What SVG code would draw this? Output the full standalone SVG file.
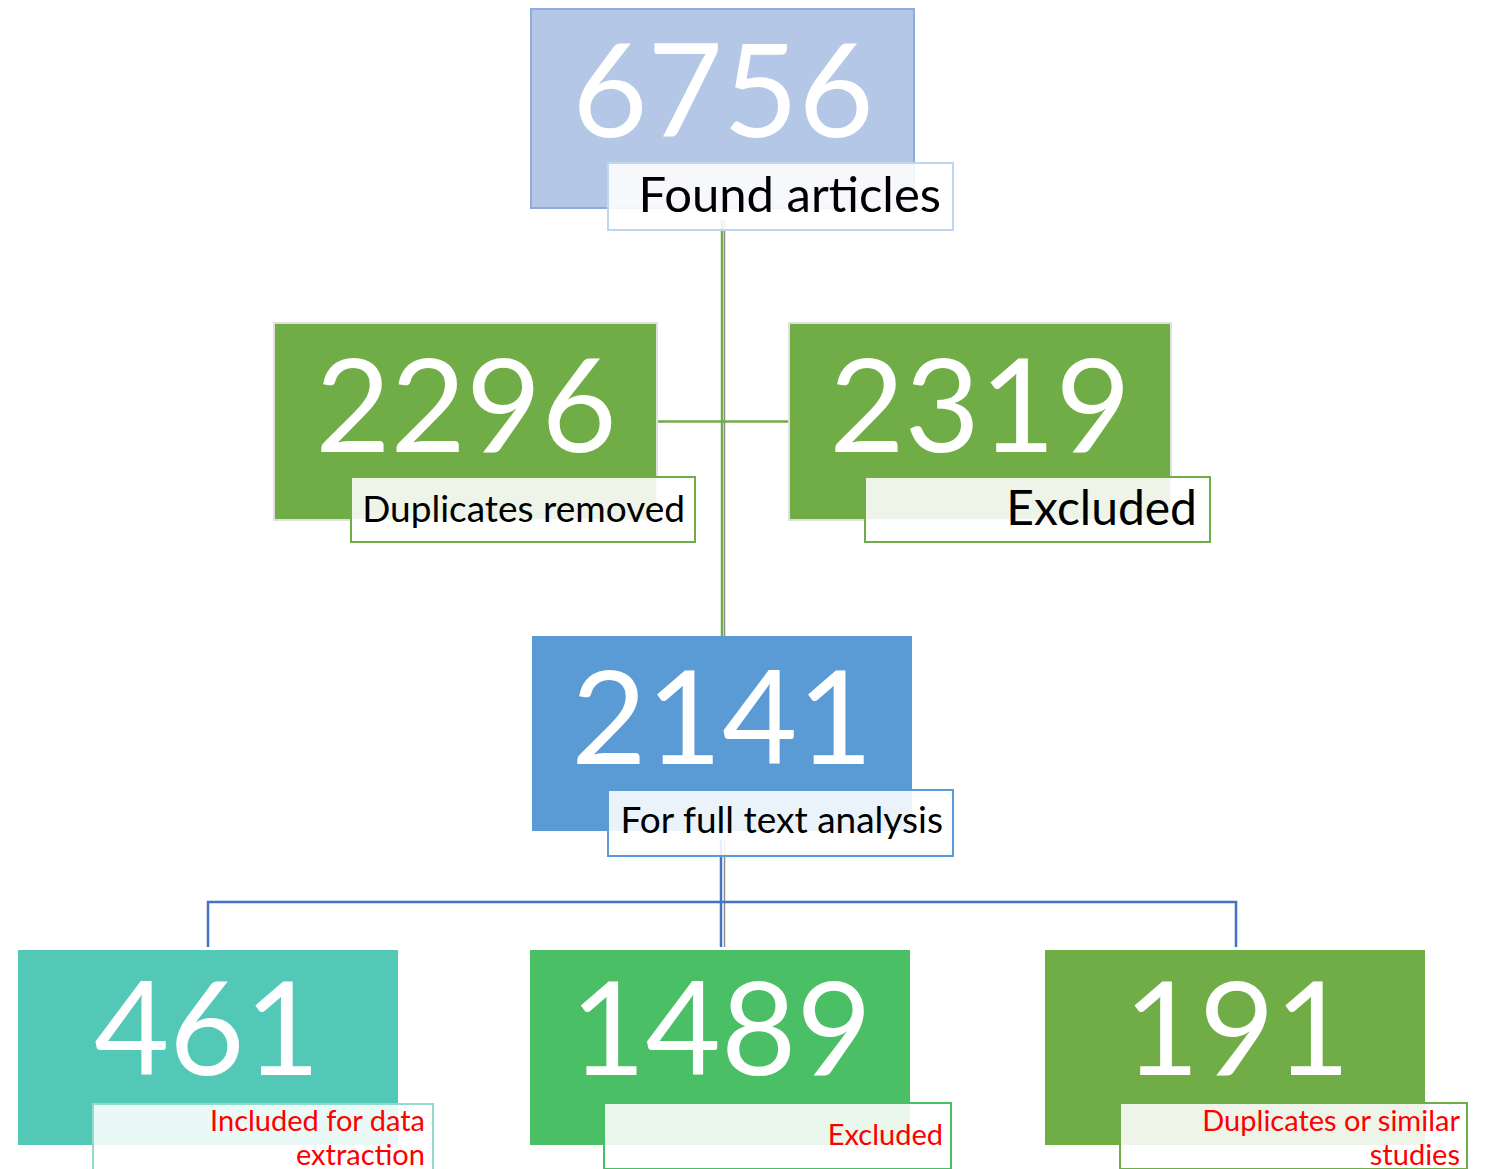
<svg xmlns="http://www.w3.org/2000/svg" width="1491" height="1169" viewBox="0 0 1491 1169">
  <style>
    .num { font-family: Lato, "Open Sans", sans-serif; font-size: 130px; fill: #ffffff; text-anchor: middle; }
    .lbl { font-family: Lato, "Open Sans", sans-serif; fill: #000000; text-anchor: end; }
    .red { font-family: Lato, "Open Sans", sans-serif; fill: #ff0000; text-anchor: end; font-size: 29px; }
    .tag { fill: #ffffff; fill-opacity: 0.88; stroke-width: 2; }
    .g-line { stroke: #70ad47; stroke-width: 2.5; fill: none; }
    .b-line { stroke: #4472c4; stroke-width: 2.5; fill: none; }
    .k-line { stroke: #8c8c8c; stroke-width: 1.5; fill: none; }
  </style>

  <!-- connectors -->
  <g id="connectors">
    <line class="g-line" x1="722" y1="220" x2="722" y2="636"/>
    <line class="k-line" x1="724.5" y1="220" x2="724.5" y2="636"/>
    <line class="g-line" x1="657" y1="421.5" x2="788" y2="421.5"/>
    <line class="b-line" x1="721" y1="840" x2="721" y2="947"/>
    <line class="k-line" x1="724.5" y1="840" x2="724.5" y2="947"/>
    <polyline class="b-line" points="208,947 208,902 1236,902 1236,947"/>
  </g>

  <!-- found articles -->
  <g id="found">
    <rect x="531" y="9" width="383" height="199" fill="#b4c7e7" stroke="#8faadc" stroke-width="2"/>
    <text class="num" x="723" y="137">6756</text>
    <rect class="tag" x="608" y="163" width="345" height="67" stroke="#bdd7ee"/>
    <text class="lbl" x="941" y="212" font-size="49">Found articles</text>
  </g>

  <!-- duplicates removed -->
  <g id="duplicates">
    <rect x="274" y="323" width="383" height="197" fill="#70ad47" stroke="#e0e0e0" stroke-width="2"/>
    <text class="num" x="466" y="452">2296</text>
    <rect class="tag" x="351" y="477" width="344" height="65" stroke="#70ad47"/>
    <text class="lbl" x="685" y="522" font-size="37">Duplicates removed</text>
  </g>

  <!-- excluded after screening -->
  <g id="excluded-screen">
    <rect x="789" y="323" width="382" height="197" fill="#70ad47" stroke="#e0e0e0" stroke-width="2"/>
    <text class="num" x="980" y="452">2319</text>
    <rect class="tag" x="865" y="477" width="345" height="65" stroke="#70ad47"/>
    <text class="lbl" x="1197" y="525" font-size="48">Excluded</text>
  </g>

  <!-- full text analysis -->
  <g id="fulltext">
    <rect x="532" y="636" width="380" height="195" fill="#5b9bd5"/>
    <text class="num" x="722" y="764">2141</text>
    <rect class="tag" x="608" y="790" width="345" height="66" stroke="#5b9bd5"/>
    <text class="lbl" x="943" y="833" font-size="37">For full text analysis</text>
  </g>

  <!-- included -->
  <g id="included">
    <rect x="18" y="950" width="380" height="195" fill="#53c8b6"/>
    <text class="num" x="207" y="1075">461</text>
    <rect class="tag" x="93" y="1104" width="340" height="66" stroke="#8fdccf"/>
    <text class="red" x="425" y="1131">Included for data</text>
    <text class="red" x="425" y="1165">extraction</text>
  </g>

  <!-- excluded after full text -->
  <g id="excluded-full">
    <rect x="530" y="950" width="380" height="195" fill="#4abf65"/>
    <text class="num" x="721" y="1075">1489</text>
    <rect class="tag" x="604" y="1103" width="347" height="66" stroke="#4abf65"/>
    <text class="red" x="943" y="1145">Excluded</text>
  </g>

  <!-- duplicate studies -->
  <g id="similar">
    <rect x="1045" y="950" width="380" height="195" fill="#70ad47"/>
    <text class="num" x="1237" y="1075">191</text>
    <rect class="tag" x="1120" y="1103" width="347" height="66" stroke="#70ad47"/>
    <text class="red" x="1460" y="1131">Duplicates or similar</text>
    <text class="red" x="1460" y="1165">studies</text>
  </g>
</svg>
